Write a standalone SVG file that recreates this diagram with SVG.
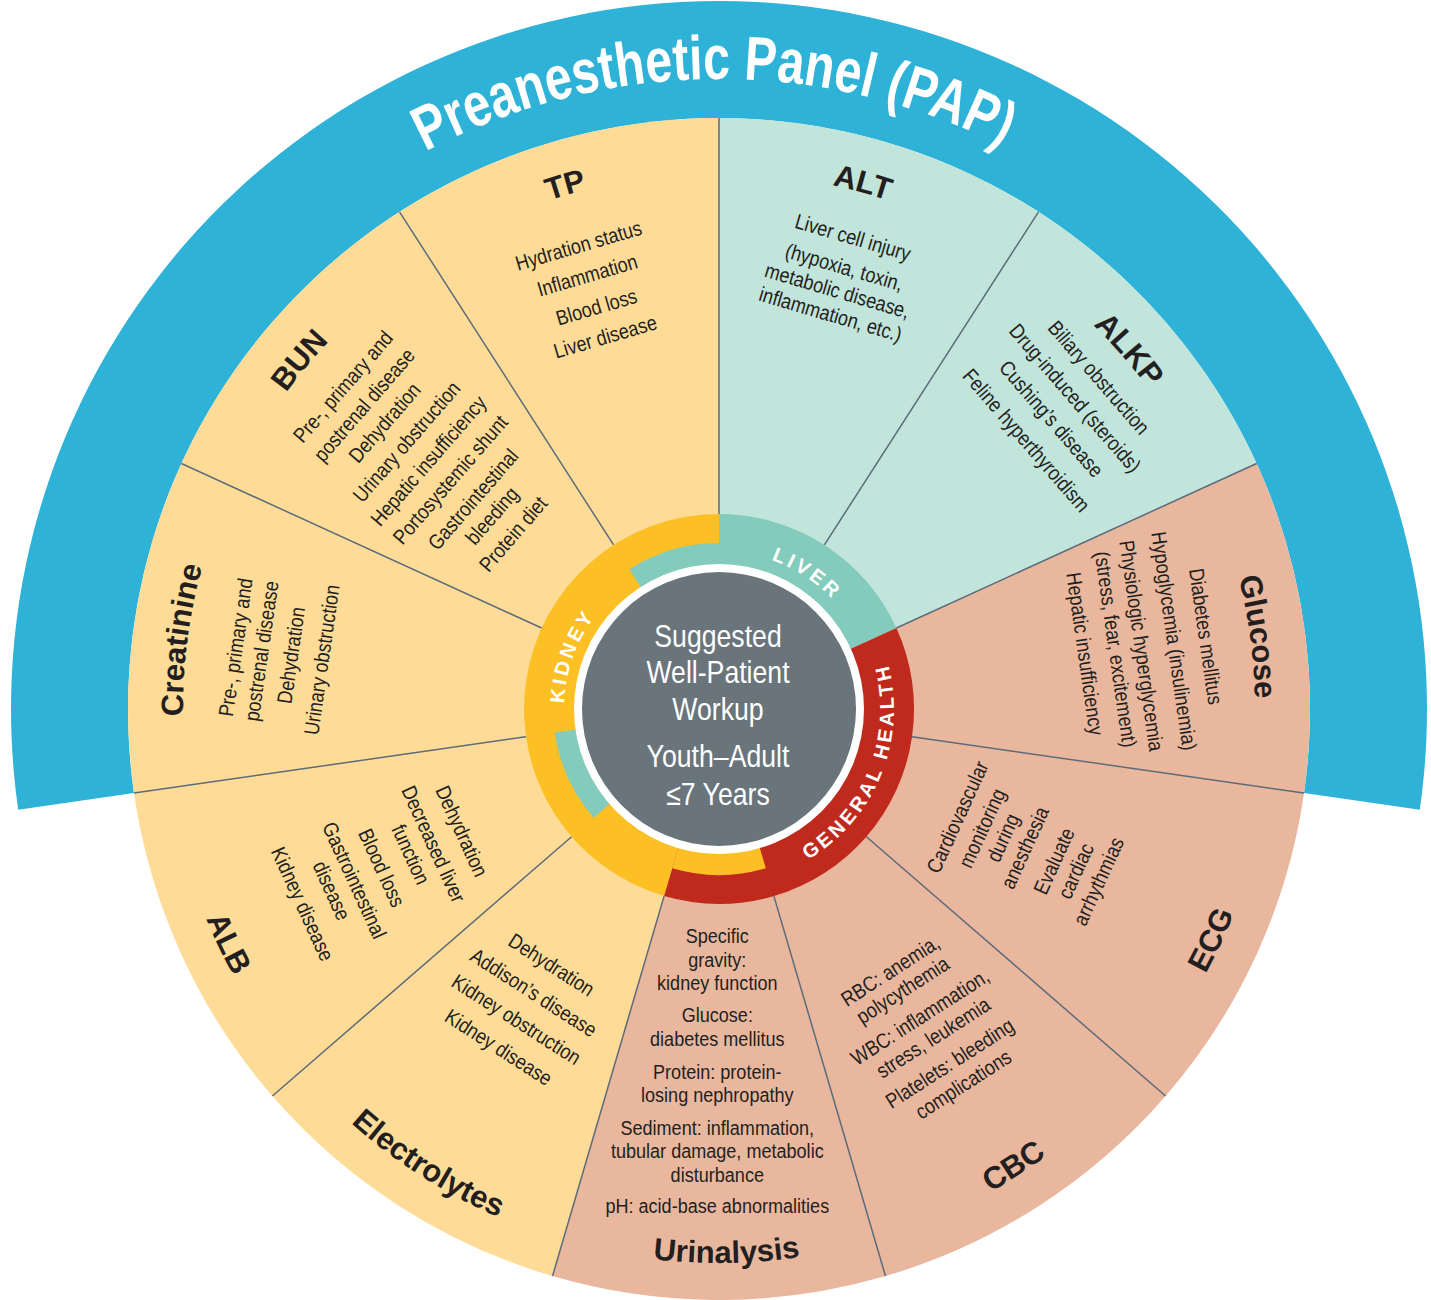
<svg xmlns="http://www.w3.org/2000/svg" width="1431" height="1300" viewBox="0 0 1431 1300">
<defs>
<style>
.body{font-family:"Liberation Sans",Arial,sans-serif;font-size:21px;fill:#231F20;text-anchor:middle}
.title{font-family:"Liberation Sans",Arial,sans-serif;font-size:31px;font-weight:bold;fill:#231F20;text-anchor:middle}
.ring{font-family:"Liberation Sans",Arial,sans-serif;font-size:20px;font-weight:bold;fill:#FFFFFF;letter-spacing:3.3px;text-anchor:middle}
.hub{font-family:"Liberation Sans",Arial,sans-serif;font-size:31px;fill:#FFFFFF;text-anchor:middle}
.pap{font-family:"Liberation Sans",Arial,sans-serif;font-size:62px;font-weight:bold;fill:#FFFFFF;text-anchor:middle}
.sep{stroke:#5B6B7A;stroke-width:1.5;fill:none}
.y{fill:#FEDC97}.m{fill:#C1E4DB}.s{fill:#E9B79E}
</style>
<path id="tArc" d="M -183.3 -503.7 A 536 536 0 0 1 183.3 -503.7"/>
<path id="bArc" d="M -189.5 520.6 A 554 554 0 0 0 189.5 520.6"/>
<path id="papArc" d="M -361.4 -516.1 A 630 630 0 0 1 361.4 -516.1"/>
<path id="kArc" d="M -99.6 -118.7 A 155 155 0 0 1 99.6 -118.7"/>
<path id="lArc" d="M -101.6 -121 A 158 158 0 0 1 101.6 -121"/>
<path id="gArc" d="M -143.3 100.4 A 175 175 0 0 0 143.3 100.4"/>
</defs>
<rect width="1431" height="1300" fill="#FFFFFF"/>

<g id="band">
<path d="M 18.2 809.7 A 708 708 0 1 1 1419.8 809.7 L 1304 793.1 A 591 591 0 1 0 134 793.1 Z" fill="#2EB2D8"/>
<g transform="translate(719 709) rotate(-0.5)">
<text class="pap"><textPath href="#papArc" startOffset="50%" textLength="600" lengthAdjust="spacingAndGlyphs">Preanesthetic Panel (PAP)</textPath></text>
</g>
</g>

<g id="wedges">
<path class="m" d="M719 709 L719 118 A591 591 0 0 1 1038.5 211.8 Z"/>
<path class="m" d="M719 709 L1038.5 211.8 A591 591 0 0 1 1256.6 463.5 Z"/>
<path class="s" d="M719 709 L1256.6 463.5 A591 591 0 0 1 1304 793.1 Z"/>
<path class="s" d="M719 709 L1304 793.1 A591 591 0 0 1 1165.6 1096 Z"/>
<path class="s" d="M719 709 L1165.6 1096 A591 591 0 0 1 885.5 1276.1 Z"/>
<path class="s" d="M719 709 L885.5 1276.1 A591 591 0 0 1 552.5 1276.1 Z"/>
<path class="y" d="M719 709 L552.5 1276.1 A591 591 0 0 1 272.4 1096 Z"/>
<path class="y" d="M719 709 L272.4 1096 A591 591 0 0 1 134 793.1 Z"/>
<path class="y" d="M719 709 L134 793.1 A591 591 0 0 1 181.4 463.5 Z"/>
<path class="y" d="M719 709 L181.4 463.5 A591 591 0 0 1 399.5 211.8 Z"/>
<path class="y" d="M719 709 L399.5 211.8 A591 591 0 0 1 719 118 Z"/>
</g>

<g id="connectors">
<line class="sep" x1="719" y1="514" x2="719" y2="118"/>
<line class="sep" x1="824.4" y1="544.9" x2="1038.5" y2="211.8"/>
<line class="sep" x1="896.4" y1="628" x2="1256.6" y2="463.5"/>
<line class="sep" x1="912" y1="736.7" x2="1304" y2="793.1"/>
<line class="sep" x1="866.4" y1="836.7" x2="1165.6" y2="1096"/>
<line class="sep" x1="773.9" y1="896.1" x2="885.5" y2="1276.1"/>
<line class="sep" x1="664.1" y1="896.1" x2="552.5" y2="1276.1"/>
<line class="sep" x1="571.6" y1="836.7" x2="272.4" y2="1096"/>
<line class="sep" x1="526" y1="736.7" x2="134" y2="793.1"/>
<line class="sep" x1="541.6" y1="628" x2="181.4" y2="463.5"/>
<line class="sep" x1="613.6" y1="544.9" x2="399.5" y2="211.8"/>
</g>

<g id="hub">
<path d="M719 709 L664.1 896.1 A195 195 0 0 1 719 514 Z" fill="#FCC025"/>
<path d="M719 709 L719 514 A195 195 0 0 1 896.4 628 Z" fill="#83CBBC"/>
<path d="M719 709 L896.4 628 A195 195 0 0 1 664.1 896.1 Z" fill="#C02A1C"/>
<path d="M719 709 L629.3 569.3 A166 166 0 0 1 719 543 Z" fill="#83CBBC"/>
<path d="M719 709 L593.6 817.7 A166 166 0 0 1 554.7 732.6 Z" fill="#83CBBC"/>
<path d="M719 709 L765.8 868.3 A166 166 0 0 1 672.2 868.3 Z" fill="#FCC025"/>
<circle cx="719" cy="709" r="145" fill="#FFFFFF"/>
<circle cx="719" cy="709" r="137" fill="#69747B"/>
<g transform="translate(719 709) rotate(-70.3)"><text class="ring"><textPath href="#kArc" startOffset="50%">KIDNEY</textPath></text></g>
<g transform="translate(719 709) rotate(33)"><text class="ring"><textPath href="#lArc" startOffset="50%">LIVER</textPath></text></g>
<g transform="translate(719 709) rotate(-68)"><text class="ring"><textPath href="#gArc" startOffset="50%">GENERAL HEALTH</textPath></text></g>
<g transform="translate(718 0) scale(0.86 1)">
<text class="hub"><tspan x="0" y="647">Suggested</tspan><tspan x="0" y="683">Well-Patient</tspan><tspan x="0" y="720">Workup</tspan><tspan x="0" y="767">Youth–Adult</tspan><tspan x="0" y="805">≤7 Years</tspan></text>
</g>
</g>

<g id="tp" transform="translate(719 709) rotate(-16.364)">
<text class="title"><textPath href="#tArc" startOffset="187">TP</textPath></text>
<text class="body" transform="scale(0.86 1)"><tspan x="-5" y="-477">Hydration status</tspan><tspan x="-5" y="-446">Inflammation</tspan><tspan x="-5" y="-413">Blood loss</tspan><tspan x="-5" y="-382">Liver disease</tspan></text>
</g>

<g id="alt" transform="translate(719 709) rotate(16.364)">
<text class="title"><textPath href="#tArc" startOffset="177">ALT</textPath></text>
<text class="body" transform="scale(0.86 1)"><tspan x="-5" y="-483">Liver cell injury</tspan><tspan x="-5" y="-452">(hypoxia, toxin,</tspan><tspan x="-5" y="-427.5">metabolic disease,</tspan><tspan x="-5" y="-403">inflammation, etc.)</tspan></text>
</g>

<g id="alkp" transform="translate(719 709) rotate(49.091)">
<text class="title"><textPath href="#tArc" startOffset="184">ALKP</textPath></text>
<text class="body" transform="scale(0.86 1)"><tspan x="-2" y="-497">Biliary obstruction</tspan><tspan x="-2" y="-465.5">Drug-induced (steroids)</tspan><tspan x="-2" y="-434">Cushing’s disease</tspan><tspan x="-2" y="-401">Feline hyperthyroidism</tspan></text>
</g>

<g id="glucose" transform="translate(719 709) rotate(81.818)">
<text class="title"><textPath href="#tArc" startOffset="192">Glucose</textPath></text>
<text class="body" transform="scale(0.86 1)"><tspan x="-3" y="-485">Diabetes mellitus</tspan><tspan x="-3" y="-453">Hypoglycemia (insulinemia)</tspan><tspan x="-3" y="-420">Physiologic hyperglycemia</tspan><tspan x="-3" y="-394">(stress, fear, excitement)</tspan><tspan x="-3" y="-363">Hepatic insufficiency</tspan></text>
</g>

<g id="ecg" transform="translate(719 709) rotate(-65.455)">
<text class="title"><textPath href="#bArc" startOffset="188">ECG</textPath></text>
<text class="body" transform="scale(0.86 1)"><tspan x="1" y="269">Cardiovascular</tspan><tspan x="1" y="296">monitoring</tspan><tspan x="1" y="319">during</tspan><tspan x="1" y="343">anesthesia</tspan><tspan x="1" y="375">Evaluate</tspan><tspan x="1" y="399">cardiac</tspan><tspan x="1" y="424">arrhythmias</tspan></text>
</g>

<g id="cbc" transform="translate(719 709) rotate(-32.727)">
<text class="title"><textPath href="#bArc" startOffset="194">CBC</textPath></text>
<text class="body" transform="scale(0.86 1)"><tspan x="3" y="320">RBC: anemia,</tspan><tspan x="3" y="343">polycythemia</tspan><tspan x="3" y="375">WBC: inflammation,</tspan><tspan x="3" y="399.5">stress, leukemia</tspan><tspan x="3" y="430">Platelets: bleeding</tspan><tspan x="3" y="455">complications</tspan></text>
</g>

<g id="urinalysis" transform="translate(719 709)">
<text class="title"><textPath href="#bArc" startOffset="201">Urinalysis</textPath></text>
<text class="body" transform="scale(0.86 1)"><tspan x="-2" y="234">Specific</tspan><tspan x="-2" y="258">gravity:</tspan><tspan x="-2" y="281">kidney function</tspan><tspan x="-2" y="313">Glucose:</tspan><tspan x="-2" y="337">diabetes mellitus</tspan><tspan x="-2" y="370">Protein: protein-</tspan><tspan x="-2" y="393">losing nephropathy</tspan><tspan x="-2" y="426">Sediment: inflammation,</tspan><tspan x="-2" y="449">tubular damage, metabolic</tspan><tspan x="-2" y="473">disturbance</tspan><tspan x="-2" y="504">pH: acid-base abnormalities</tspan></text>
</g>

<g id="electrolytes" transform="translate(719 709) rotate(32.727)">
<text class="title"><textPath href="#bArc" startOffset="195">Electrolytes</textPath></text>
<text class="body" transform="scale(0.86 1)"><tspan x="-3" y="313">Dehydration</tspan><tspan x="-3" y="346">Addison’s disease</tspan><tspan x="-3" y="378">Kidney obstruction</tspan><tspan x="-3" y="411">Kidney disease</tspan></text>
</g>

<g id="alb" transform="translate(719 709) rotate(65.455)">
<text class="title"><textPath href="#bArc" startOffset="203">ALB</textPath></text>
<text class="body" transform="scale(0.86 1)"><tspan x="5" y="292">Dehydration</tspan><tspan x="5" y="323">Decreased liver</tspan><tspan x="5" y="348">function</tspan><tspan x="5" y="380">Blood loss</tspan><tspan x="5" y="410">Gastrointestinal</tspan><tspan x="5" y="435">disease</tspan><tspan x="5" y="467">Kidney disease</tspan></text>
</g>

<g id="creatinine" transform="translate(719 709) rotate(-81.818)">
<text class="title"><textPath href="#tArc" startOffset="179">Creatinine</textPath></text>
<text class="body" transform="scale(0.86 1)"><tspan x="-9" y="-480">Pre-, primary and</tspan><tspan x="-9" y="-454">postrenal disease</tspan><tspan x="-9" y="-424">Dehydration</tspan><tspan x="-9" y="-393">Urinary obstruction</tspan></text>
</g>

<g id="bun" transform="translate(719 709) rotate(-49.091)">
<text class="title"><textPath href="#tArc" startOffset="176">BUN</textPath></text>
<text class="body" transform="scale(0.86 1)"><tspan x="-3" y="-488">Pre-, primary and</tspan><tspan x="-3" y="-460">postrenal disease</tspan><tspan x="-3" y="-433">Dehydration</tspan><tspan x="-3" y="-404">Urinary obstruction</tspan><tspan x="-3" y="-375">Hepatic insufficiency</tspan><tspan x="-3" y="-346">Portosystemic shunt</tspan><tspan x="-3" y="-316">Gastrointestinal</tspan><tspan x="-3" y="-291">bleeding</tspan><tspan x="-3" y="-263">Protein diet</tspan></text>
</g>
</svg>
